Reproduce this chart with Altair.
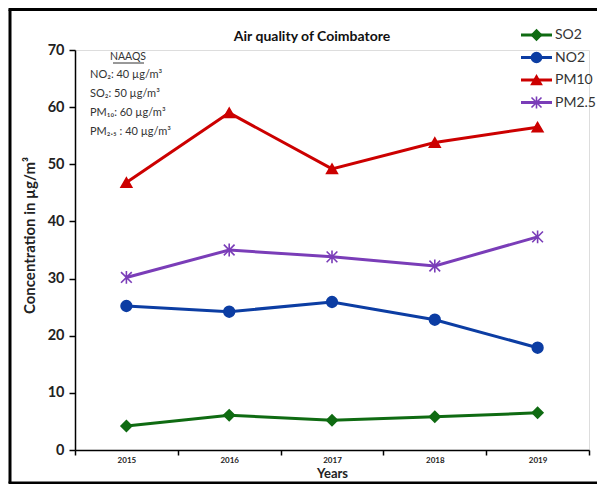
import altair as alt
import pandas as pd

FONT = "Lato"

years = ["2015", "2016", "2017", "2018", "2019"]
series = ["SO2", "NO2", "PM10", "PM2.5"]
so2 = [4.2, 6.1, 5.2, 5.8, 6.5]
no2 = [25.2, 24.2, 25.9, 22.8, 17.9]
pm10 = [46.8, 59.0, 49.2, 53.8, 56.5]
pm25 = [30.2, 35.0, 33.8, 32.2, 37.3]
colors = ["#0f6b12", "#0c3da3", "#cc0000", "#7a3db8"]
shapes = ["diamond", "circle", "triangle-up", "M-1,-1L1,1M-1,1L1,-1M0,-1.2L0,1.2"]
y_ticks = [0, 10, 20, 30, 40, 50, 60, 70]
title_text = "Air quality of Coimbatore"
naaqs_title = "NAAQS"
naaqs_lines = ["NO₂: 40 µg/m³", "SO₂: 50 µg/m³", "PM₁₀: 60 µg/m³", "PM₂.₅ : 40 µg/m³"]

values = {"SO2": so2, "NO2": no2, "PM10": pm10, "PM2.5": pm25}
rows = []
for s in series:
    for y, v in zip(years, values[s]):
        rows.append({"year": y, "series": s, "value": v})
df = pd.DataFrame(rows)
one = pd.DataFrame({"a": [0]})

W, H = 514, 400

color_scale = alt.Scale(domain=series, range=colors)
shape_scale = alt.Scale(domain=series, range=shapes)

x_enc = alt.X(
    "year:N", sort=years, bandPosition=0.5,
    scale=alt.Scale(type="band", paddingInner=0, paddingOuter=0),
    axis=alt.Axis(
        title="Years", tickBand="extent", labelAngle=0, labelFontSize=8,
        labelFontWeight="bold", labelFont=FONT, labelColor="#222",
        labelPadding=1, tickSize=5, tickColor="black", tickWidth=1.5,
        domainColor="black", domainWidth=1.5, titleFont=FONT,
        titleFontSize=13, titleFontWeight="bold", titleColor="#222",
        titlePadding=3,
    ),
)
y_enc = alt.Y(
    "value:Q",
    scale=alt.Scale(domain=[0, 70], nice=False),
    axis=alt.Axis(
        values=y_ticks, grid=False, title="Concentration in  µg/m³",
        labelFontSize=14.5, labelFontWeight="bold", labelFont=FONT,
        labelColor="#222", labelPadding=5, tickSize=6, tickColor="black",
        tickWidth=1.5, domainColor="black", domainWidth=1.5,
        titleFont=FONT, titleFontSize=15, titleFontWeight="bold",
        titleColor="#222", titleAngle=270, titleAlign="center",
        titleBaseline="middle", titleX=-46, titleY=185,
    ),
)

base = alt.Chart(df)
lines = base.mark_line(strokeWidth=3).encode(
    x=x_enc, y=y_enc,
    color=alt.Color("series:N", scale=color_scale, legend=None),
    detail="series:N",
)
points = base.mark_point(filled=True, size=115, strokeWidth=1.6, opacity=1).encode(
    x=x_enc, y=y_enc,
    fill=alt.Fill("series:N", scale=color_scale, legend=None),
    stroke=alt.Stroke("series:N", scale=color_scale, legend=None),
    shape=alt.Shape("series:N", scale=shape_scale, legend=None),
)

layers = [lines, points]

# chart title
layers.append(alt.Chart(one).mark_text(
    text=title_text, font=FONT, fontSize=14, fontWeight="bold", color="#111"
).encode(x=alt.value(237), y=alt.value(-13)))

# NAAQS annotation
layers.append(alt.Chart(one).mark_text(
    text=naaqs_title, font=FONT, fontSize=10.5, color="#333"
).encode(x=alt.value(53), y=alt.value(7)))
layers.append(alt.Chart(one).mark_rule(color="#333", strokeWidth=1).encode(
    x=alt.value(38), x2=alt.value(69), y=alt.value(13)))
for i, t in enumerate(naaqs_lines):
    layers.append(alt.Chart(one).mark_text(
        text=t, font=FONT, fontSize=11, color="#333", align="left"
    ).encode(x=alt.value(15), y=alt.value(25 + i * 19)))

# legend
for i, s in enumerate(series):
    ly = -15 + i * 22.5
    layers.append(alt.Chart(one).mark_rule(color=colors[i], strokeWidth=3).encode(
        x=alt.value(446), x2=alt.value(477), y=alt.value(ly)))
    layers.append(alt.Chart(one).mark_point(
        filled=True, size=100, strokeWidth=1.6, opacity=1, shape=shapes[i],
        fill=colors[i], stroke=colors[i]
    ).encode(x=alt.value(461.5), y=alt.value(ly)))
    layers.append(alt.Chart(one).mark_text(
        text=s, font=FONT, fontSize=14, color="#333", align="left"
    ).encode(x=alt.value(480), y=alt.value(ly)))

# frame
layers.append(alt.Chart(one).mark_rule(color="black", strokeWidth=3).encode(
    x=alt.value(-65), y=alt.value(-40.5), y2=alt.value(433)))
layers.append(alt.Chart(one).mark_rule(color="black", strokeWidth=3).encode(
    x=alt.value(-66.5), x2=alt.value(530), y=alt.value(-40.5)))
layers.append(alt.Chart(one).mark_rule(color="black", strokeWidth=3).encode(
    x=alt.value(-66.5), x2=alt.value(530), y=alt.value(433)))

chart = alt.layer(*layers).properties(
    width=W, height=H,
    autosize=alt.AutoSizeParams(type="none"),
    padding={"left": 67, "top": 42, "right": 8, "bottom": 34},
).configure_view(stroke=None).configure(background="white")

chart.save("out.html", embed_options={"renderer": "svg", "actions": False})
